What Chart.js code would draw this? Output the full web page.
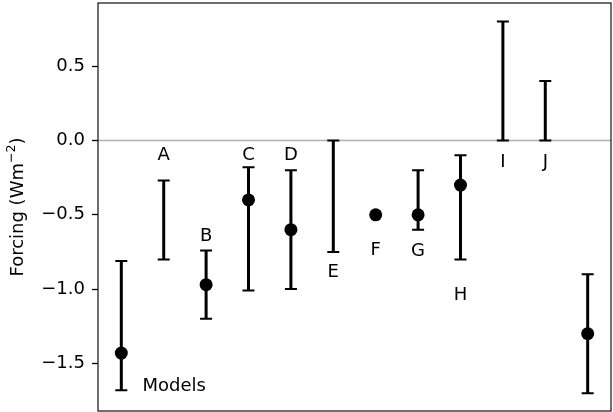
<!DOCTYPE html>
<html>
<head>
<meta charset="utf-8">
<script src="https://cdn.jsdelivr.net/npm/chart.js@4/dist/chart.umd.min.js"></script>
<style>
  html, body { margin: 0; padding: 0; background: #fff; }
  canvas { display: block; }
</style>
</head>
<body>
<canvas id="chart" width="613" height="412"></canvas>
<script>
// Model names written beside each estimate (the last one is unlabelled)
const modelNames = ['Models', 'A', 'B', 'C', 'D', 'E', 'F', 'G', 'H', 'I', 'J', ''];
// Central forcing estimates (Wm-2); null where only a range is given
const central = [-1.43, null, -0.97, -0.40, -0.60, null, -0.50, -0.50, -0.30, null, null, -1.30];
// Lower and upper ends of each range; null where only a central value is given
const lower = [-1.68, -0.80, -1.20, -1.01, -1.00, -0.75, null, -0.60, -0.80, 0.00, 0.00, -1.70];
const upper = [-0.81, -0.27, -0.74, -0.18, -0.20, 0.00, null, -0.20, -0.10, 0.80, 0.40, -0.90];
// Where each name is written, in data units
const nameX = [0.5, 1, 2, 3, 4, 5, 6, 7, 8, 9, 10, 11];
const nameY = [-1.655, -0.10, -0.645, -0.10, -0.10, -0.89, -0.74, -0.745, -1.045, -0.145, -0.145, 0];
const nameAlign = ['left', 'center', 'center', 'center', 'center', 'center', 'center', 'center', 'center', 'center', 'center', 'center'];
// Y axis ticks
const yTicks = [-1.5, -1.0, -0.5, 0.0, 0.5];
const referenceLevel = 0;
// Y axis title, split so the exponent can be raised
const yTitleParts = [
  { text: 'Forcing (Wm', sup: false },
  { text: '\u22122', sup: true },
  { text: ')', sup: false }
];

const FONT = "'DejaVu Sans', sans-serif";
const FONT_SIZE = 18;

const points = central
  .map((v, i) => (v === null ? null : { x: i, y: v }))
  .filter(p => p !== null);

const fmt = v => (v < 0 ? '\u2212' : '') + Math.abs(v).toFixed(1);

const errorBars = {
  id: 'errorBars',
  beforeDatasetsDraw(chart) {
    const { ctx, chartArea, scales: { x, y } } = chart;
    ctx.save();
    ctx.beginPath();
    ctx.rect(chartArea.left, chartArea.top, chartArea.right - chartArea.left, chartArea.bottom - chartArea.top);
    ctx.clip();
    // zero reference line
    const y0 = y.getPixelForValue(referenceLevel);
    ctx.strokeStyle = '#b0b0b0';
    ctx.lineWidth = 1.5;
    ctx.beginPath();
    ctx.moveTo(chartArea.left, y0);
    ctx.lineTo(chartArea.right, y0);
    ctx.stroke();
    // ranges with caps
    ctx.strokeStyle = '#000';
    for (let i = 0; i < lower.length; i++) {
      if (lower[i] === null || upper[i] === null) continue;
      const px = x.getPixelForValue(i);
      const pLo = y.getPixelForValue(lower[i]);
      const pHi = y.getPixelForValue(upper[i]);
      ctx.lineWidth = 3;
      ctx.beginPath();
      ctx.moveTo(px, pLo);
      ctx.lineTo(px, pHi);
      ctx.stroke();
      ctx.lineWidth = 2;
      ctx.beginPath();
      ctx.moveTo(px - 6, pLo); ctx.lineTo(px + 6, pLo);
      ctx.moveTo(px - 6, pHi); ctx.lineTo(px + 6, pHi);
      ctx.stroke();
    }
    ctx.restore();
  },
  afterDatasetsDraw(chart) {
    const { ctx, chartArea, scales: { x, y } } = chart;
    ctx.save();
    ctx.fillStyle = '#000';
    ctx.font = FONT_SIZE + 'px ' + FONT;
    ctx.textBaseline = 'middle';
    for (let i = 0; i < modelNames.length; i++) {
      if (!modelNames[i]) continue;
      ctx.textAlign = nameAlign[i];
      ctx.fillText(modelNames[i], x.getPixelForValue(nameX[i]), y.getPixelForValue(nameY[i]));
    }
    // axes frame
    ctx.strokeStyle = '#222';
    ctx.lineWidth = 1.3;
    ctx.strokeRect(chartArea.left, chartArea.top, chartArea.right - chartArea.left, chartArea.bottom - chartArea.top);

    // rotated y axis title with a raised exponent
    const supSize = FONT_SIZE * 0.7;
    const fontFor = p => (p.sup ? supSize : FONT_SIZE) + 'px ' + FONT;
    let total = 0;
    for (const p of yTitleParts) { ctx.font = fontFor(p); total += ctx.measureText(p.text).width; }
    const cy = (chartArea.top + chartArea.bottom) / 2;
    ctx.translate(23, cy);
    ctx.rotate(-Math.PI / 2);
    ctx.textAlign = 'left';
    ctx.textBaseline = 'alphabetic';
    let cx = -total / 2;
    for (const p of yTitleParts) {
      ctx.font = fontFor(p);
      ctx.fillText(p.text, cx, p.sup ? -FONT_SIZE * 0.42 : 0);
      cx += ctx.measureText(p.text).width;
    }
    ctx.restore();
  }
};

new Chart(document.getElementById('chart'), {
  type: 'scatter',
  data: {
    datasets: [{
      data: points,
      pointRadius: 6.5,
      pointHoverRadius: 6.5,
      pointBackgroundColor: '#000',
      pointBorderWidth: 0,
      showLine: false
    }]
  },
  options: {
    responsive: false,
    animation: false,
    events: [],
    layout: { autoPadding: false, padding: { top: 3, right: 2, bottom: 1, left: 0 } },
    plugins: { legend: { display: false }, tooltip: { enabled: false } },
    scales: {
      x: {
        type: 'linear',
        display: false,
        min: -0.55,
        max: 11.55
      },
      y: {
        type: 'linear',
        min: -1.82,
        max: 0.925,
        afterFit(scale) {
          scale.width = 98;
          scale.paddingTop = 0;
          scale.paddingBottom = 0;
        },
        afterBuildTicks(scale) { scale.ticks = yTicks.map(v => ({ value: v })); },
        border: { display: false },
        grid: {
          drawOnChartArea: false,
          drawTicks: true,
          tickLength: 6,
          tickColor: '#000',
          tickWidth: 1.3
        },
        ticks: {
          color: '#000',
          padding: 7,
          font: { family: FONT, size: FONT_SIZE },
          callback: v => fmt(v)
        },
        title: { display: false }
      }
    }
  },
  plugins: [errorBars]
});
</script>
</body>
</html>
